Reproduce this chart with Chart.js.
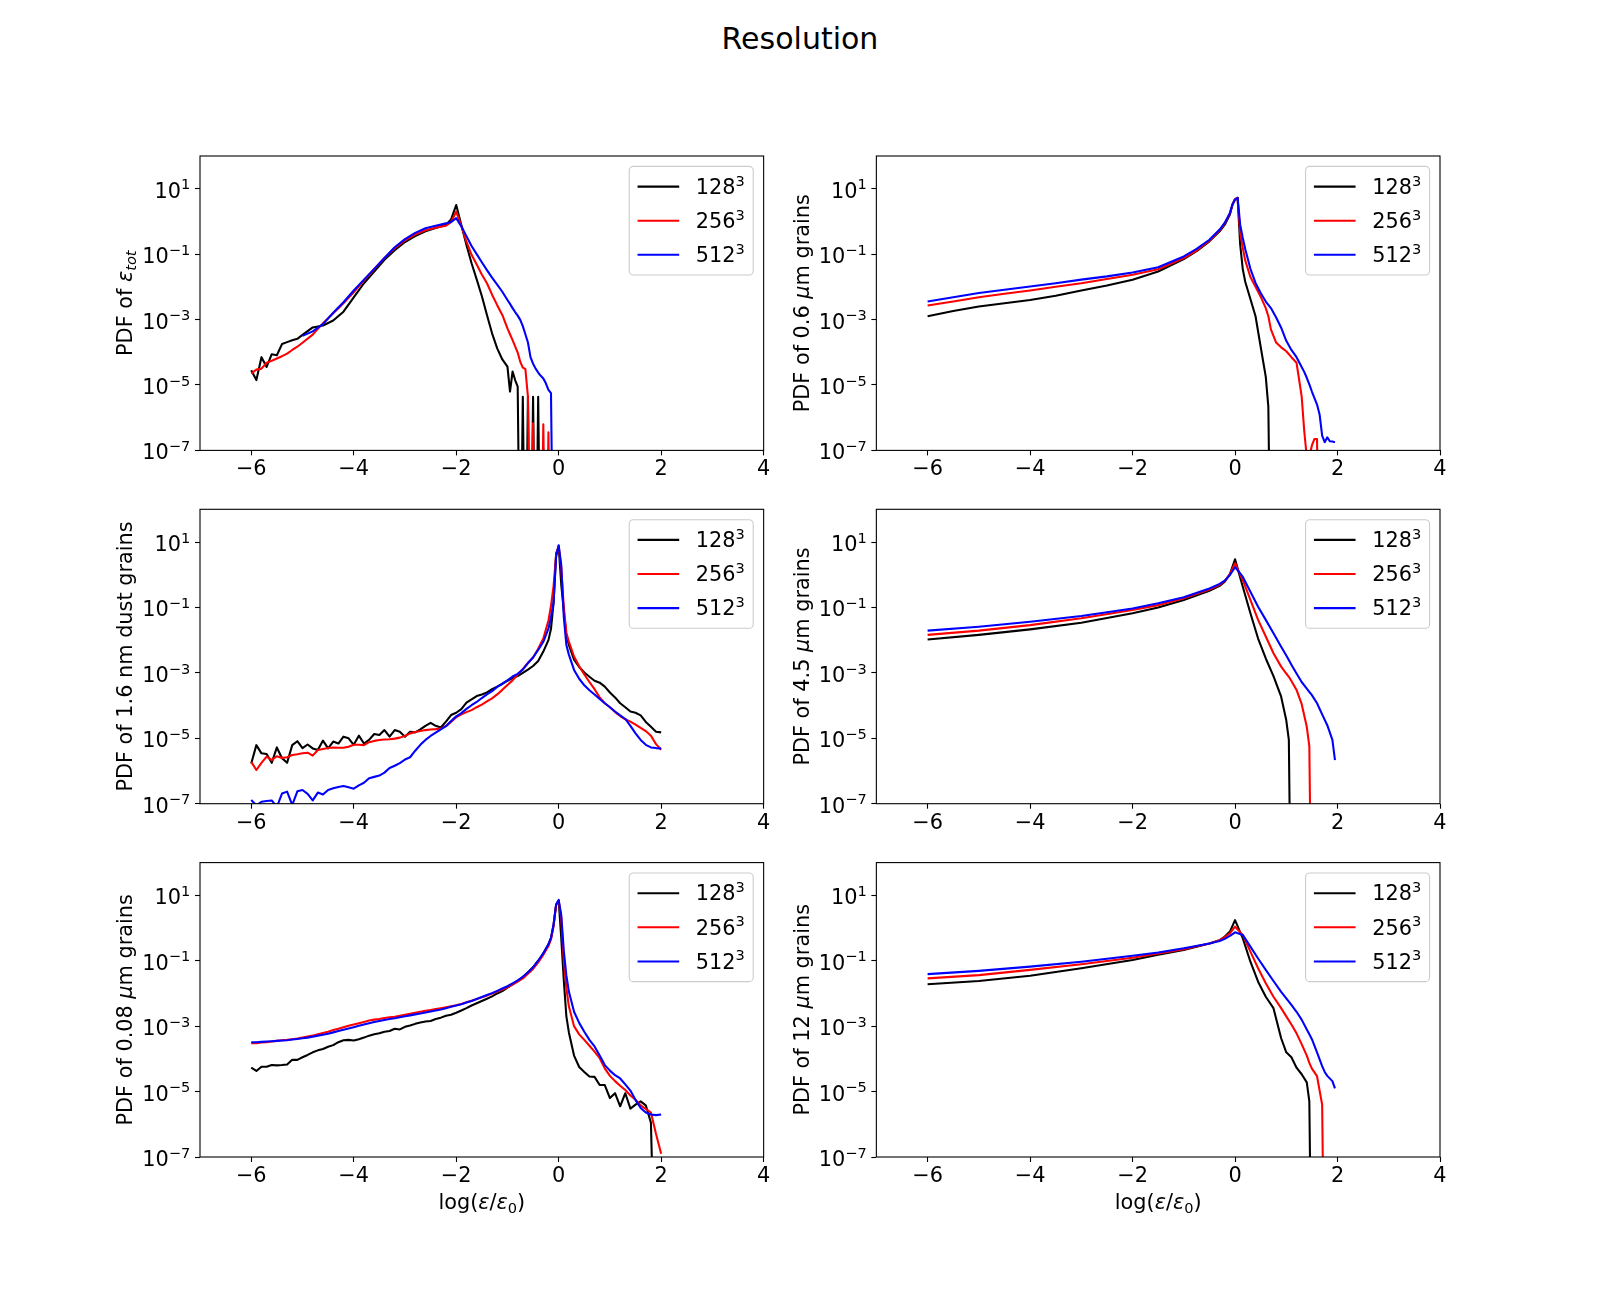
<!DOCTYPE html>
<html>
<head>
<meta charset="utf-8">
<title>Resolution</title>
<script src="https://cdn.jsdelivr.net/npm/chart.js@4.4.1/dist/chart.umd.min.js"></script>
<style>
  html, body { margin: 0; padding: 0; background: #fff; }
  body { width: 1600px; height: 1300px; position: relative; overflow: hidden; }
  #title { position: absolute; left: 0; top: 23.6px; width: 1600px; text-align: center;
           font: 30px/30px "DejaVu Sans", sans-serif; color: #000; }
  canvas { position: absolute; }
</style>
</head>
<body>
<div id="title">Resolution</div>
<script>
// ---- data (y values are log10 of the PDF, -12 = empty bin, null = no data) ----
const SERIES_LABELS = ['128', '256', '512'];
const SERIES_COLORS = ['#000000', '#ff0000', '#0000ff'];
const X_TICKS = [-6, -4, -2, 0, 2, 4];
const Y_TICKS = [-7, -5, -3, -1, 1];

// total dust
const X_TOT = [-6, -5.9, -5.8, -5.7, -5.6, -5.5, -5.4, -5.3, -5.2, -5.1, -5, -4.8, -4.6, -4.4, -4.2, -4,
  -3.8, -3.6, -3.4, -3.2, -3, -2.8, -2.6, -2.4, -2.2, -2.1, -2, -1.9, -1.8, -1.7, -1.6, -1.5, -1.4,
  -1.3, -1.2, -1.1, -1, -0.95, -0.9, -0.85, -0.8, -0.75, -0.7, -0.65, -0.6, -0.55, -0.5, -0.45, -0.4,
  -0.35, -0.3, -0.25, -0.2, -0.15, -0.1];
const TOT_128 = [-4.55, -4.85, -4.15, -4.45, -4.06, -4.09, -3.75, -3.69, -3.63, -3.59, -3.47,
  -3.24, -3.18, -3.03, -2.76, -2.32, -1.89, -1.53, -1.17, -0.88, -0.63, -0.45, -0.30, -0.20, -0.10,
  0.06, 0.50, -0.11, -0.72, -1.28, -1.77, -2.28, -2.86, -3.42, -3.88, -4.22, -4.44,
  -5.2, -4.59, -4.85, -5.05, -12, -5.36, -12, -5.36, -12, -5.36, -12, -5.36, -12, null, null, null, null, null];
const TOT_256 = [-4.65, -4.53, -4.50, -4.32, -4.26, -4.19, -4.12, -4.04, -3.93, -3.83, -3.71,
  -3.46, -3.11, -2.81, -2.50, -2.17, -1.80, -1.46, -1.12, -0.82, -0.58, -0.40, -0.27, -0.19, -0.13,
  -0.02, 0.30, -0.14, -0.62, -1.02, -1.32, -1.62, -1.89, -2.24, -2.56, -2.86, -3.27,
  -3.45, -3.63, -3.82, -4.01, -4.29, -4.47, -4.51, -5.36, -12, -6.17, -12, -12, -12, -6.2, -12, -6.45, -12, null];
const TOT_512 = [null, null, null, null, null, null, null, null, null, null, -3.50,
  -3.36, -3.14, -2.79, -2.47, -2.11, -1.78, -1.45, -1.12, -0.79, -0.54, -0.35, -0.21, -0.13, -0.06,
  -0.02, 0.10, -0.15, -0.45, -0.75, -1.00, -1.25, -1.49, -1.72, -1.93, -2.15, -2.40,
  -2.52, -2.65, -2.77, -2.88, -3.01, -3.20, -3.45, -3.70, -4.15, -4.35, -4.50, -4.62, -4.72, -4.80, -4.95, -5.15, -5.25, -12];

// 0.6 um grains
const X_06 = [-6, -5.5, -5, -4.5, -4, -3.5, -3, -2.5, -2, -1.5, -1, -0.75, -0.5, -0.3, -0.2, -0.1, -0.05,
  0, 0.05, 0.1, 0.15, 0.2, 0.3, 0.4, 0.5, 0.6, 0.65, 0.7, 0.8, 0.9, 1, 1.1, 1.2, 1.3,
  1.35, 1.4, 1.45, 1.5, 1.55, 1.6, 1.65, 1.7, 1.75, 1.8, 1.85, 1.9, 1.95];
const G06_128 = [-2.90, -2.74, -2.60, -2.50, -2.40, -2.27, -2.11, -1.96, -1.78, -1.53, -1.15,
  -0.91, -0.61, -0.30, -0.10, 0.21, 0.52, 0.67, 0.72, -0.70, -1.45, -1.85, -2.37, -2.90, -3.83, -4.75,
  -5.67, -12, null, null, null, null, null, null, null, null, null, null, null, null, null, null, null, null, null, null, null];
const G06_256 = [-2.57, -2.45, -2.32, -2.21, -2.11, -2.00, -1.89, -1.76, -1.63, -1.46, -1.12,
  -0.89, -0.59, -0.27, -0.06, 0.24, 0.52, 0.69, 0.72, -0.35, -0.80, -1.20, -1.70, -2.00, -2.30, -2.65,
  -2.90, -3.30, -3.70, -3.85, -3.97, -4.15, -4.32, -5.35,
  -6.40, -7.20, -7.20, -6.85, -6.65, -6.65, -12, null, null, null, null, null, null];
const G06_512 = [-2.45, -2.32, -2.19, -2.09, -1.99, -1.89, -1.78, -1.68, -1.56, -1.40, -1.07,
  -0.84, -0.56, -0.25, -0.04, 0.26, 0.52, 0.67, 0.72, -0.10, -0.50, -0.85, -1.45, -1.88, -2.19, -2.45,
  -2.55, -2.65, -2.93, -3.25, -3.65, -3.93, -4.15, -4.45,
  -4.60, -4.78, -4.98, -5.20, -5.40, -5.60, -5.90, -6.55, -6.75, -6.60, -6.72, -6.73, -6.75];

// shared fine grid (1.6 nm and 0.08 um grains)
const X_FINE = [-6, -5.9, -5.8, -5.7, -5.6, -5.5, -5.4, -5.3, -5.2, -5.1,
  -5, -4.9, -4.8, -4.7, -4.6, -4.5, -4.4, -4.3, -4.2, -4.1,
  -4, -3.9, -3.8, -3.7, -3.6, -3.5, -3.4, -3.3, -3.2, -3.1,
  -3, -2.9, -2.8, -2.7, -2.6, -2.5, -2.4, -2.3, -2.2, -2.1,
  -2, -1.9, -1.8, -1.7, -1.6, -1.5, -1.4, -1.3, -1.2, -1.1,
  -1, -0.9, -0.8, -0.7, -0.6, -0.5, -0.4, -0.3, -0.2,
  -0.15, -0.1, -0.05, 0, 0.05, 0.1, 0.15,
  0.2, 0.3, 0.4, 0.5, 0.6, 0.7, 0.8, 0.9, 1, 1.1, 1.2, 1.3, 1.4, 1.5, 1.6, 1.7, 1.8, 1.9, 2];

// 1.6 nm dust grains
const NM16_128 = [-5.77, -5.21, -5.46, -5.48, -5.75, -5.28, -5.61, -5.75, -5.21, -5.09,
  -5.30, -5.19, -5.31, -5.36, -5.07, -5.31, -5.10, -5.16, -4.95, -5.00,
  -5.20, -4.92, -5.16, -5.05, -4.87, -4.90, -4.75, -4.95, -4.75, -4.80,
  -4.95, -4.80, -4.82, -4.73, -4.62, -4.53, -4.62, -4.67, -4.49, -4.29,
  -4.22, -4.11, -3.91, -3.81, -3.71, -3.66, -3.60, -3.50, -3.42, -3.34,
  -3.24, -3.16, -3.10, -3.00, -2.90, -2.79, -2.64, -2.35, -2.00,
  -1.65, -0.87, 0.65, 0.86, -0.30, -1.10, -1.85,
  -2.15, -2.60, -2.82, -2.99, -3.12, -3.24, -3.30, -3.42, -3.60, -3.75, -3.93, -4.05, -4.18, -4.22, -4.30, -4.50, -4.65, -4.80, -4.82];
const NM16_256 = [-5.72, -5.97, -5.75, -5.56, -5.67, -5.55, -5.60, -5.58, -5.51, -5.49,
  -5.46, -5.44, -5.53, -5.36, -5.33, -5.30, -5.28, -5.29, -5.29, -5.26,
  -5.20, -5.20, -5.21, -5.12, -5.08, -5.05, -5.04, -5.03, -5.01, -4.98,
  -4.93, -4.85, -4.81, -4.78, -4.75, -4.73, -4.72, -4.70, -4.63, -4.50,
  -4.36, -4.27, -4.20, -4.14, -4.05, -3.97, -3.87, -3.78, -3.66, -3.52,
  -3.37, -3.23, -3.05, -2.88, -2.70, -2.53, -2.26, -1.95, -1.40,
  -0.95, -0.35, 0.60, 0.88, 0.20, -1.00, -1.78,
  -2.05, -2.50, -2.80, -3.05, -3.28, -3.50, -3.75, -3.93, -4.05, -4.20, -4.32, -4.42, -4.49, -4.58, -4.68, -4.78, -4.92, -5.18, -5.35];
const NM16_512 = [-6.89, -7.05, -6.94, -6.92, -6.90, -7.10, -6.69, -6.63, -7.04, -6.62,
  -6.58, -6.70, -6.90, -6.66, -6.72, -6.58, -6.53, -6.49, -6.46, -6.50,
  -6.54, -6.44, -6.36, -6.22, -6.18, -6.14, -6.05, -5.91, -5.84, -5.76,
  -5.65, -5.58, -5.38, -5.20, -5.05, -4.93, -4.83, -4.73, -4.63, -4.47,
  -4.33, -4.23, -4.10, -3.99, -3.89, -3.77, -3.66, -3.56, -3.43, -3.33,
  -3.23, -3.11, -3.03, -2.90, -2.70, -2.53, -2.30, -2.05, -1.65,
  -1.30, -0.85, 0.55, 0.90, 0.30, -1.30, -2.15,
  -2.45, -2.91, -3.18, -3.38, -3.53, -3.66, -3.80, -3.93, -4.05, -4.18, -4.30, -4.41, -4.62, -4.85, -5.05, -5.20, -5.28, -5.30, -5.31];

// 4.5 um grains
const X_45 = [-6, -5, -4, -3, -2, -1.5, -1, -0.5, -0.3, -0.2, -0.1, 0, 0.15, 0.3, 0.45, 0.6, 0.75, 0.9,
  1, 1.05, 1.1, 1.2, 1.3, 1.4, 1.45, 1.5, 1.6, 1.7, 1.8, 1.9, 1.95];
const G45_128 = [-1.98, -1.84, -1.67, -1.47, -1.18, -1.00, -0.77, -0.49, -0.34, -0.21, 0.02, 0.47,
  -0.36, -1.18, -1.95, -2.56, -3.10, -3.73, -4.45, -5.05, -12, null, null, null, null, null, null, null, null, null, null];
const G45_256 = [-1.84, -1.71, -1.54, -1.33, -1.08, -0.93, -0.72, -0.45, -0.31, -0.19, 0.02, 0.35,
  -0.16, -0.77, -1.38, -1.89, -2.40, -2.81, -3.02, -3.12, -3.25, -3.52, -3.95, -4.65, -5.25, -12, null, null, null, null, null];
const G45_512 = [-1.71, -1.59, -1.44, -1.26, -1.03, -0.87, -0.69, -0.42, -0.28, -0.18, -0.01, 0.23,
  -0.06, -0.52, -0.98, -1.38, -1.79, -2.20, -2.47, -2.61, -2.75, -3.02, -3.28, -3.48, -3.58, -3.68, -3.93, -4.27, -4.60, -5.05, -5.67];

// 0.08 um grains (on X_FINE)
const G008_128 = [-4.27, -4.37, -4.24, -4.24, -4.19, -4.20, -4.19, -4.17, -4.03, -4.03,
  -3.95, -3.88, -3.80, -3.74, -3.70, -3.63, -3.58, -3.49, -3.43, -3.42,
  -3.44, -3.40, -3.35, -3.29, -3.25, -3.22, -3.17, -3.15, -3.08, -3.10,
  -3.02, -2.98, -2.93, -2.89, -2.86, -2.84, -2.78, -2.74, -2.68, -2.65,
  -2.59, -2.52, -2.45, -2.37, -2.30, -2.23, -2.16, -2.09, -2.00, -1.93,
  -1.82, -1.72, -1.62, -1.50, -1.35, -1.20, -1.00, -0.78, -0.50,
  -0.30, 0.10, 0.71, 0.84, -0.30, -1.60, -2.70,
  -3.20, -3.90, -4.25, -4.40, -4.54, -4.55, -4.80, -4.80, -5.20, -5.05, -5.45, -5.05, -5.52, -5.40, -5.30, -5.42, -5.95, -12, null];
const G008_256 = [-3.52, -3.52, -3.50, -3.49, -3.47, -3.45, -3.43, -3.42, -3.40, -3.38,
  -3.35, -3.32, -3.29, -3.25, -3.21, -3.17, -3.12, -3.08, -3.03, -2.99,
  -2.95, -2.91, -2.87, -2.83, -2.80, -2.78, -2.75, -2.73, -2.71, -2.68,
  -2.65, -2.62, -2.59, -2.56, -2.53, -2.51, -2.48, -2.45, -2.42, -2.39,
  -2.36, -2.32, -2.27, -2.22, -2.17, -2.12, -2.06, -2.00, -1.94, -1.88,
  -1.81, -1.73, -1.64, -1.54, -1.40, -1.25, -1.05, -0.82, -0.55,
  -0.35, 0.05, 0.71, 0.84, 0.30, -1.00, -1.84,
  -2.40, -3.00, -3.25, -3.42, -3.60, -3.78, -3.98, -4.29, -4.52, -4.68, -4.82, -4.95, -5.12, -5.25, -5.42, -5.53, -5.64, -6.30, -6.90];
const G008_512 = [-3.49, -3.49, -3.48, -3.47, -3.46, -3.45, -3.44, -3.43, -3.41, -3.39,
  -3.37, -3.35, -3.32, -3.29, -3.26, -3.23, -3.19, -3.15, -3.11, -3.07,
  -3.03, -2.99, -2.95, -2.91, -2.87, -2.84, -2.81, -2.78, -2.76, -2.73,
  -2.70, -2.67, -2.64, -2.61, -2.58, -2.55, -2.52, -2.49, -2.45, -2.41,
  -2.37, -2.33, -2.28, -2.23, -2.17, -2.11, -2.05, -1.99, -1.92, -1.85,
  -1.78, -1.69, -1.60, -1.49, -1.36, -1.20, -1.00, -0.77, -0.50,
  -0.30, 0.10, 0.72, 0.86, 0.40, -0.70, -1.45,
  -1.95, -2.56, -2.90, -3.17, -3.42, -3.62, -3.90, -4.19, -4.36, -4.50, -4.60, -4.78, -4.97, -5.26, -5.50, -5.64, -5.70, -5.72, -5.70];

// 12 um grains
const X_12 = [-6, -5, -4, -3, -2, -1.5, -1, -0.5, -0.3, -0.2, -0.1, 0, 0.15, 0.3, 0.45, 0.6, 0.75, 0.9,
  1, 1.1, 1.2, 1.3, 1.4, 1.45, 1.5, 1.6, 1.7, 1.75, 1.8, 1.9, 1.95];
const G12_128 = [-1.72, -1.62, -1.46, -1.23, -0.98, -0.82, -0.67, -0.47, -0.37, -0.26, -0.11, 0.24,
  -0.31, -1.03, -1.64, -2.10, -2.45, -3.37, -3.80, -3.95, -4.27, -4.47, -4.72, -5.30, -12, null, null, null, null, null, null];
const G12_256 = [-1.54, -1.44, -1.28, -1.11, -0.91, -0.78, -0.65, -0.47, -0.37, -0.28, -0.16, 0.04,
  -0.21, -0.72, -1.23, -1.69, -2.10, -2.45, -2.70, -2.95, -3.22, -3.55, -3.90, -4.12, -4.30, -4.53, -5.40, -12, null, null, null];
const G12_512 = [-1.41, -1.31, -1.18, -1.03, -0.85, -0.75, -0.62, -0.47, -0.40, -0.33, -0.24, -0.13,
  -0.21, -0.57, -0.93, -1.28, -1.62, -1.95, -2.15, -2.35, -2.56, -2.80, -3.10, -3.25, -3.40, -3.80, -4.22, -4.40, -4.52, -4.68, -4.90];

// axis titles: [text, style]  r = roman, i = italic, s suffix = subscript, p suffix = superscript
const Y_TITLES = [
  [['PDF of ', 'r'], ['\u03b5', 'i'], ['tot', 'is']],
  [['PDF of 0.6 ', 'r'], ['\u03bc', 'i'], ['m grains', 'r']],
  [['PDF of 1.6 nm dust grains', 'r']],
  [['PDF of 4.5 ', 'r'], ['\u03bc', 'i'], ['m grains', 'r']],
  [['PDF of 0.08 ', 'r'], ['\u03bc', 'i'], ['m grains', 'r']],
  [['PDF of 12 ', 'r'], ['\u03bc', 'i'], ['m grains', 'r']]
];
const X_TITLE = [['log(', 'r'], ['\u03b5', 'i'], ['/', 'r'], ['\u03b5', 'i'], ['0', 'rs'], [')', 'r']];

const PANELS = [
  { x: X_TOT, ys: [TOT_128, TOT_256, TOT_512], row: 0, col: 0 },
  { x: X_06, ys: [G06_128, G06_256, G06_512], row: 0, col: 1 },
  { x: X_FINE, ys: [NM16_128, NM16_256, NM16_512], row: 1, col: 0 },
  { x: X_45, ys: [G45_128, G45_256, G45_512], row: 1, col: 1 },
  { x: X_FINE, ys: [G008_128, G008_256, G008_512], row: 2, col: 0 },
  { x: X_12, ys: [G12_128, G12_256, G12_512], row: 2, col: 1 }
];

// ---- layout (matplotlib default subplot grid on a 1600x1300 figure) ----
const AX_LEFT = [200, 876.36];
const AX_TOP = [156, 509.3, 862.6];
const AX_W = 563.64, AX_H = 294.4;
const FS = 20.83;
const FONT = '"DejaVu Sans"';

Chart.defaults.font.family = FONT;
Chart.defaults.font.size = FS;
Chart.defaults.color = '#000';

function partFont(kind) {
  const size = kind.length > 1 ? FS * 0.7 : FS;
  return (kind[0] === 'i' ? 'italic ' : '') + size + 'px ' + FONT;
}
function partShift(kind) {
  if (kind[1] === 's') return FS * 0.17;
  if (kind[1] === 'p') return -FS * 0.4;
  return 0;
}
function drawRich(ctx, parts, x, y, align) {
  let total = 0;
  const widths = parts.map(([t, k]) => {
    ctx.font = partFont(k);
    const w = ctx.measureText(t).width;
    total += w;
    return w;
  });
  let cx = align === 'center' ? x - total / 2 : align === 'right' ? x - total : x;
  ctx.textAlign = 'left';
  ctx.textBaseline = 'alphabetic';
  parts.forEach(([t, k], i) => {
    ctx.font = partFont(k);
    ctx.fillText(t, cx, y + partShift(k));
    cx += widths[i];
  });
  return total;
}
function roundRectPath(ctx, x, y, w, h, r) {
  ctx.beginPath();
  ctx.moveTo(x + r, y);
  ctx.lineTo(x + w - r, y);
  ctx.arcTo(x + w, y, x + w, y + r, r);
  ctx.lineTo(x + w, y + h - r);
  ctx.arcTo(x + w, y + h, x + w - r, y + h, r);
  ctx.lineTo(x + r, y + h);
  ctx.arcTo(x, y + h, x, y + h - r, r);
  ctx.lineTo(x, y + r);
  ctx.arcTo(x, y, x + r, y, r);
  ctx.closePath();
}

// frame, log tick labels, legend and axis titles in matplotlib style
const panelDecor = {
  id: 'panelDecor',
  afterDraw(chart, args, opts) {
    const { ctx, chartArea: a } = chart;
    ctx.save();
    ctx.strokeStyle = '#000';
    ctx.lineWidth = 1.1;
    ctx.strokeRect(a.left, a.top, a.right - a.left, a.bottom - a.top);

    // y tick labels as 10^n, placed by the y scale
    const ys = chart.scales.y;
    ctx.fillStyle = '#000';
    ys.ticks.forEach(t => {
      const py = ys.getPixelForValue(t.value);
      const exp = t.value < 0 ? '\u2212' + Math.abs(t.value) : String(t.value);
      drawRich(ctx, [['10', 'r'], [exp, 'rp']], a.left - 9.7, py + 9, 'right');
    });

    // legend
    const pad = 0.4 * FS, hl = 2 * FS, htp = 0.8 * FS, ls = 0.5 * FS, rowH = 23.7;
    const entries = chart.data.datasets.map(d => [d.label, d.borderColor]);
    let textW = 0;
    entries.forEach(([lab]) => {
      ctx.font = partFont('r');
      const w = ctx.measureText(lab).width;
      ctx.font = partFont('rp');
      textW = Math.max(textW, w + ctx.measureText('3').width);
    });
    const bw = pad + hl + htp + textW + pad;
    const bh = 2 * pad + 3 * rowH + 2 * ls;
    const bx = a.right - 0.5 * FS - bw, by = a.top + 0.5 * FS;
    roundRectPath(ctx, bx, by, bw, bh, 0.2 * FS);
    ctx.fillStyle = 'rgba(255,255,255,0.8)';
    ctx.fill();
    ctx.strokeStyle = '#cccccc';
    ctx.lineWidth = 1.1;
    ctx.stroke();
    entries.forEach(([lab, col], i) => {
      const cy = by + pad + rowH / 2 + i * (rowH + ls);
      ctx.strokeStyle = col;
      ctx.lineWidth = 2.08;
      ctx.beginPath();
      ctx.moveTo(bx + pad, cy);
      ctx.lineTo(bx + pad + hl, cy);
      ctx.stroke();
      ctx.fillStyle = '#000';
      drawRich(ctx, [[lab, 'r'], ['3', 'rp']], bx + pad + hl + htp, cy + 7.3, 'left');
    });

    // y title (rotated)
    ctx.fillStyle = '#000';
    ctx.save();
    ctx.translate(a.left - 67.8, (a.top + a.bottom) / 2);
    ctx.rotate(-Math.PI / 2);
    drawRich(ctx, opts.yTitle, 0, 0, 'center');
    ctx.restore();

    if (opts.xTitle) drawRich(ctx, opts.xTitle, (a.left + a.right) / 2, a.bottom + 52, 'center');
    ctx.restore();
  }
};

PANELS.forEach((p, k) => {
  const axL = AX_LEFT[p.col], axT = AX_TOP[p.row];
  const cl = Math.floor(axL - 130), ct = Math.floor(axT - 24);
  const cw = 720, ch = 400;
  const yW = axL - cl, padT = axT - ct, padR = cw - yW - AX_W, xH = ch - padT - AX_H;

  const canvas = document.createElement('canvas');
  canvas.width = cw;
  canvas.height = ch;
  canvas.style.left = cl + 'px';
  canvas.style.top = ct + 'px';
  canvas.style.width = cw + 'px';
  canvas.style.height = ch + 'px';
  document.body.appendChild(canvas);

  const datasets = p.ys.map((ys, i) => ({
    label: SERIES_LABELS[i],
    data: p.x.map((xv, j) => ({ x: xv, y: ys[j] })),
    borderColor: SERIES_COLORS[i],
    borderWidth: 2.08,
    borderJoinStyle: 'round',
    pointRadius: 0,
    tension: 0,
    fill: false,
    spanGaps: false,
    order: 3 - i
  }));

  new Chart(canvas, {
    type: 'line',
    data: { datasets },
    plugins: [panelDecor],
    options: {
      responsive: false,
      animation: false,
      events: [],
      layout: { padding: { left: 0, top: padT, right: padR, bottom: 0 }, autoPadding: false },
      plugins: {
        legend: { display: false },
        tooltip: { enabled: false },
        panelDecor: { yTitle: Y_TITLES[k], xTitle: p.row === 2 ? X_TITLE : null }
      },
      scales: {
        x: {
          type: 'linear', min: -7, max: 4,
          afterBuildTicks: s => { s.ticks = X_TICKS.map(v => ({ value: v })); },
          afterFit: s => { s.height = xH; },
          border: { display: false },
          grid: { drawOnChartArea: false, drawTicks: true, tickLength: 5, tickWidth: 1.1, tickColor: '#000' },
          ticks: {
            padding: 2, maxRotation: 0, autoSkip: false,
            callback: v => (v < 0 ? '\u2212' + Math.abs(v) : String(v))
          }
        },
        y: {
          type: 'linear', min: -7, max: 2,
          afterBuildTicks: s => { s.ticks = Y_TICKS.map(v => ({ value: v })); },
          afterFit: s => { s.width = yW; },
          border: { display: false },
          grid: { drawOnChartArea: false, drawTicks: true, tickLength: 5, tickWidth: 1.1, tickColor: '#000' },
          ticks: { display: false }
        }
      }
    }
  });
});
</script>
</body>
</html>
